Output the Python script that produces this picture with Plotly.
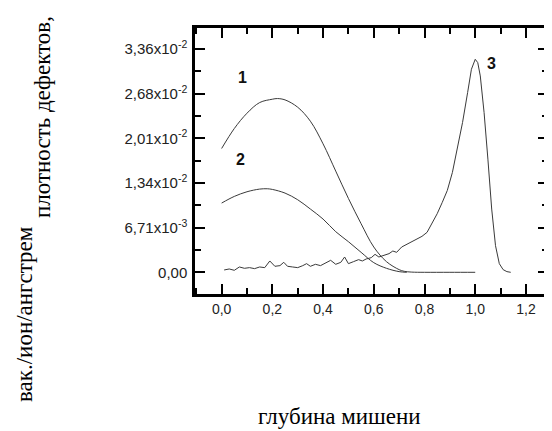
import plotly.graph_objects as go

# Curve 1
x1 = [0.0, 0.05, 0.1, 0.15, 0.2, 0.22, 0.25, 0.3, 0.35, 0.4, 0.45, 0.5, 0.55, 0.6, 0.65, 0.7, 0.72, 0.75, 0.8, 0.9, 1.0]
y1 = [0.0186, 0.0216, 0.0239, 0.0255, 0.0260, 0.0261, 0.0259, 0.0248, 0.0227, 0.0193, 0.0152, 0.0111, 0.0073, 0.0038, 0.0016, 0.0004, 0.00015, 0.00003, 0.0, 0.0, 0.0]

# Curve 2
x2 = [0.0, 0.05, 0.1, 0.15, 0.18, 0.2, 0.25, 0.3, 0.35, 0.4, 0.45, 0.5, 0.55, 0.6, 0.65, 0.7, 0.73]
y2 = [0.0104, 0.0114, 0.0121, 0.0125, 0.01255, 0.01245, 0.0119, 0.0109, 0.0095, 0.0080, 0.0061, 0.0046, 0.0030, 0.00145, 0.0006, 0.0001, 0.0]

# Curve 3 (noisy profile with peak near 1.0)
x3 = [0.01, 0.03, 0.05, 0.07, 0.09, 0.11, 0.13, 0.15, 0.17, 0.19, 0.21, 0.23, 0.245, 0.26, 0.28, 0.30,
      0.32, 0.335, 0.35, 0.37, 0.39, 0.41, 0.43, 0.45, 0.47, 0.485, 0.50, 0.52, 0.54, 0.555, 0.57, 0.59,
      0.605, 0.62, 0.64, 0.66, 0.675, 0.69, 0.71, 0.73, 0.75, 0.77, 0.79, 0.81, 0.83, 0.85, 0.87, 0.89,
      0.91, 0.93, 0.95, 0.97, 0.985, 1.0, 1.01, 1.02, 1.035, 1.05, 1.065, 1.08, 1.095, 1.11, 1.125, 1.14]
y3 = [0.00035, 0.0005, 0.0003, 0.0008, 0.0006, 0.0007, 0.00055, 0.0008, 0.0007, 0.0017, 0.0009, 0.0010,
      0.0015, 0.0009, 0.0008, 0.0007, 0.0010, 0.0013, 0.0009, 0.0012, 0.0010, 0.0014, 0.0018, 0.0012,
      0.0015, 0.0023, 0.0013, 0.0016, 0.0019, 0.0017, 0.0020, 0.0022, 0.0027, 0.0023, 0.0026, 0.0028,
      0.0032, 0.0030, 0.0038, 0.0042, 0.0046, 0.0051, 0.0054, 0.0060, 0.0073, 0.0088, 0.0105, 0.0123,
      0.0150, 0.0185, 0.0225, 0.0270, 0.0305, 0.0320, 0.0315, 0.0295, 0.0240, 0.0170, 0.0095, 0.0040,
      0.0013, 0.0004, 0.0001, 0.0]

# Axis ticks
x_tickvals = [0.0, 0.2, 0.4, 0.6, 0.8, 1.0, 1.2]
x_ticktext = ["0,0", "0,2", "0,4", "0,6", "0,8", "1,0", "1,2"]
x_minorvals = [-0.1, 0.1, 0.3, 0.5, 0.7, 0.9, 1.1]
y_tickvals = [0.0, 0.00671, 0.01342, 0.02013, 0.02684, 0.03355]
y_ticktext = ["0,00", "6,71x10<sup>-3</sup>", "1,34x10<sup>-2</sup>", "2,01x10<sup>-2</sup>",
              "2,68x10<sup>-2</sup>", "3,36x10<sup>-2</sup>"]
y_minorvals = [0.003355, 0.010065, 0.016775, 0.023485, 0.030195]

# Curve labels
label_text = ["1", "2", "3"]
label_x = [0.084, 0.076, 1.066]
label_y = [0.0293, 0.0169, 0.0314]

line_style = dict(color="#3a3a3a", width=1)

fig = go.Figure()
fig.add_trace(go.Scatter(x=x1, y=y1, mode="lines", line=dict(shape="spline", **line_style)))
fig.add_trace(go.Scatter(x=x2, y=y2, mode="lines", line=dict(shape="spline", **line_style)))
fig.add_trace(go.Scatter(x=x3, y=y3, mode="lines", line=line_style))

for t, lx, ly in zip(label_text, label_x, label_y):
    fig.add_annotation(x=lx, y=ly, text="<b>" + t + "</b>", showarrow=False,
                       font=dict(family="Liberation Sans, Arial", size=16, color="#111"))

serif = dict(family="Liberation Serif, Times New Roman", size=23, color="black")
fig.add_annotation(xref="paper", yref="paper", x=-0.4844, y=-0.0752, text="вак./ион/ангстрем",
                   textangle=-90, showarrow=False, xanchor="center", yanchor="middle", font=serif)
fig.add_annotation(xref="paper", yref="paper", x=-0.4334, y=0.6654, text="плотность дефектов,",
                   textangle=-90, showarrow=False, xanchor="center", yanchor="middle", font=serif)
fig.add_annotation(xref="paper", yref="paper", x=0.408, y=-0.4624, text="глубина мишени",
                   showarrow=False, xanchor="center", yanchor="middle", font=serif)

axis_common = dict(showline=True, linecolor="black", linewidth=2.5, mirror="ticks",
                   ticks="inside", ticklen=10, tickwidth=2, tickcolor="black",
                   showgrid=False, zeroline=False, automargin=False)

fig.update_xaxes(range=[-0.105, 1.287], tickmode="array", tickvals=x_tickvals, ticktext=x_ticktext,
                 tickfont=dict(family="Liberation Sans, Arial", size=14, color="#222"),
                 minor=dict(tickmode="array", tickvals=x_minorvals, ticks="inside", ticklen=6,
                            tickwidth=2, tickcolor="black"),
                 **axis_common)
fig.update_yaxes(range=[-0.00326, 0.0367], tickmode="array", tickvals=y_tickvals, ticktext=y_ticktext,
                 tickfont=dict(family="Liberation Sans, Arial", size=15, color="#222"),
                 ticklabelstandoff=2,
                 minor=dict(tickmode="array", tickvals=y_minorvals, ticks="inside", ticklen=6,
                            tickwidth=2, tickcolor="black"),
                 **axis_common)

# The page body has an 8px margin, so the figure is sized/offset to fit the window.
fig.update_layout(width=544, height=423, margin=dict(l=187, r=4, t=20, b=137),
                  paper_bgcolor="white", plot_bgcolor="white", showlegend=False)

fig.write_html("out.html")
